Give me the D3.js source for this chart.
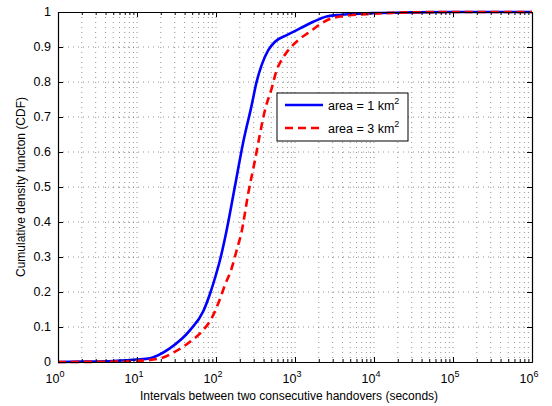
<!DOCTYPE html>
<html>
<head>
<meta charset="utf-8">
<script src="https://cdn.jsdelivr.net/npm/d3@7"></script>
<style>
  body { margin: 0; background: #fff; }
  svg { display: block; font-family: "Liberation Sans", Arial, sans-serif; }
</style>
</head>
<body>
<svg id="chart" width="552" height="406"></svg>
<script>
// Handover interval CDFs for two coverage areas
const intervals1 = [1, 2, 5, 10, 14.6, 26, 47, 69, 84, 100, 112, 136, 173, 222, 283, 327, 379, 459, 558, 785, 1156, 1706, 2518, 3373, 5000, 10000, 30000, 100000, 1000000];
const cdf1       = [0, 0.001, 0.003, 0.007, 0.011, 0.039, 0.091, 0.145, 0.195, 0.25, 0.29, 0.375, 0.5, 0.63, 0.734, 0.801, 0.849, 0.891, 0.915, 0.934, 0.953, 0.972, 0.987, 0.991, 0.994, 0.997, 0.999, 1, 1];

const intervals3 = [1, 5, 10, 19.5, 30, 47, 66, 88, 107, 130, 158, 183, 211, 256, 312, 361, 417, 507, 586, 678, 823, 1102, 1549, 2178, 2911, 4000, 10000, 30000, 100000, 1000000];
const cdf3       = [0, 0.001, 0.003, 0.01, 0.029, 0.058, 0.087, 0.125, 0.168, 0.22, 0.268, 0.32, 0.372, 0.482, 0.577, 0.653, 0.72, 0.782, 0.834, 0.863, 0.891, 0.92, 0.944, 0.968, 0.982, 0.988, 0.995, 0.999, 1, 1];

const xTickExponents = [0, 1, 2, 3, 4, 5, 6];
const yTicks = [0, 0.1, 0.2, 0.3, 0.4, 0.5, 0.6, 0.7, 0.8, 0.9, 1];
const seriesLabels = ["area = 1 km", "area = 3 km"];

const margin = { left: 58, top: 12, right: 20, bottom: 44 };
const W = 552, H = 406;
const pw = W - margin.left - margin.right;   // 474
const ph = H - margin.top - margin.bottom;   // 350

const svg = d3.select("#chart");
const g = svg.append("g").attr("transform", `translate(${margin.left},${margin.top})`);

const x = d3.scaleLog().domain([1, 1e6]).range([0, pw]);
const y = d3.scaleLinear().domain([0, 1]).range([ph, 0]);

// minor decade positions 2..9 for each decade
const minorVals = [];
for (let e = 0; e < 6; e++) for (let m = 2; m <= 9; m++) minorVals.push(m * Math.pow(10, e));
const majorVals = xTickExponents.map(e => Math.pow(10, e));

// dotted grid
const grid = g.append("g").attr("stroke", "#666").attr("stroke-width", 0.7)
  .attr("stroke-dasharray", "1,4").attr("fill", "none");
minorVals.concat(majorVals.slice(1, -1)).forEach(v => {
  grid.append("line").attr("x1", x(v)).attr("x2", x(v)).attr("y1", 0).attr("y2", ph);
});
yTicks.slice(1, -1).forEach(v => {
  grid.append("line").attr("x1", 0).attr("x2", pw).attr("y1", y(v)).attr("y2", y(v));
});

// curves
const line = d3.line().x(d => x(d[0])).y(d => y(d[1])).curve(d3.curveMonotoneX);
g.append("path").datum(intervals1.map((v, i) => [v, cdf1[i]]))
  .attr("d", line).attr("fill", "none").attr("stroke", "#0000ff").attr("stroke-width", 2.6);
g.append("path").datum(intervals3.map((v, i) => [v, cdf3[i]]))
  .attr("d", line).attr("fill", "none").attr("stroke", "#ff0000").attr("stroke-width", 2.6)
  .attr("stroke-dasharray", "8,5");

// axes box with inward ticks on all sides
const xAxisB = d3.axisBottom(x).tickValues(majorVals).tickSizeInner(-5).tickSizeOuter(0).tickFormat("");
const xAxisBm = d3.axisBottom(x).tickValues(minorVals).tickSizeInner(-3).tickSizeOuter(0).tickFormat("");
const xAxisT = d3.axisTop(x).tickValues(majorVals).tickSizeInner(-5).tickSizeOuter(0).tickFormat("");
const xAxisTm = d3.axisTop(x).tickValues(minorVals).tickSizeInner(-3).tickSizeOuter(0).tickFormat("");
const yAxisL = d3.axisLeft(y).tickValues(yTicks).tickSizeInner(-5).tickSizeOuter(0).tickFormat("");
const yAxisR = d3.axisRight(y).tickValues(yTicks).tickSizeInner(-5).tickSizeOuter(0).tickFormat("");

const axStyle = sel => { sel.selectAll("path").attr("stroke", "#000").attr("stroke-width", 1.2);
  sel.selectAll("line").attr("stroke", "#000").attr("stroke-width", 1); };
g.append("g").attr("transform", `translate(0,${ph})`).call(xAxisB).call(axStyle);
g.append("g").attr("transform", `translate(0,${ph})`).call(xAxisBm).call(axStyle);
g.append("g").call(xAxisT).call(axStyle);
g.append("g").call(xAxisTm).call(axStyle);
g.append("g").call(yAxisL).call(axStyle);
g.append("g").attr("transform", `translate(${pw},0)`).call(yAxisR).call(axStyle);

// tick labels
const labels = g.append("g").attr("font-size", 12.5).attr("fill", "#000");
yTicks.forEach(v => {
  labels.append("text").attr("x", -7).attr("y", y(v)).attr("dy", "0.35em")
    .attr("text-anchor", "end").text(d3.format("")(v));
});
xTickExponents.forEach(e => {
  const t = labels.append("text").attr("x", x(Math.pow(10, e)) - 3).attr("y", ph + 21)
    .attr("text-anchor", "middle");
  t.append("tspan").text("10");
  t.append("tspan").attr("font-size", 9).attr("dy", -6).text(e);
});

// axis titles
g.append("text").attr("x", pw / 2 - 6).attr("y", ph + 38).attr("text-anchor", "middle")
  .attr("font-size", 12).text("Intervals between two consecutive handovers (seconds)");
g.append("text").attr("transform", `translate(${-33},${ph / 2}) rotate(-90)`)
  .attr("text-anchor", "middle").attr("font-size", 12).text("Cumulative density functon (CDF)");

// legend
const lg = svg.append("g").attr("transform", "translate(277,93)");
lg.append("rect").attr("width", 131).attr("height", 48).attr("fill", "#fff")
  .attr("stroke", "#000").attr("stroke-width", 1);
const legendItems = [
  { label: seriesLabels[0], color: "#0000ff", dash: null },
  { label: seriesLabels[1], color: "#ff0000", dash: "8,5" }
];
legendItems.forEach((d, i) => {
  const yy = 12 + i * 23;
  lg.append("line").attr("x1", 8).attr("x2", 46).attr("y1", yy).attr("y2", yy)
    .attr("stroke", d.color).attr("stroke-width", 2.6).attr("stroke-dasharray", d.dash);
  const t = lg.append("text").attr("x", 51).attr("y", yy + 5).attr("font-size", 12.5);
  t.append("tspan").text(d.label);
  t.append("tspan").attr("font-size", 9).attr("dy", -6).text("2");
});
</script>
</body>
</html>
